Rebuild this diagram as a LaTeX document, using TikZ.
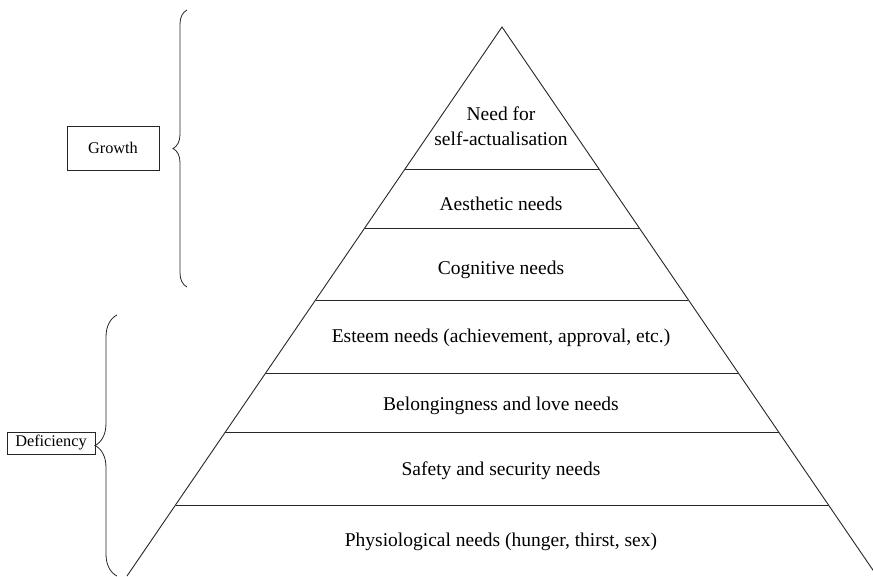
\documentclass[tikz,border=0pt]{standalone}
\usepackage{fontspec}
\setmainfont{Liberation Serif}
\usetikzlibrary{calc,decorations.pathreplacing}
\begin{document}
\begin{tikzpicture}[x=1pt,y=-1pt,
  line/.style={draw=black!85,line width=0.9pt},
  lvl/.style={font=\fontsize{19.5}{25}\selectfont,align=center,inner sep=0pt},
  side/.style={draw=black!85,line width=0.8pt,font=\fontsize{16.3}{19}\selectfont,inner sep=0pt},
  bracestyle/.style={draw=black!85,line width=0.8pt,decorate,decoration={brace,amplitude=#1,aspect=0.5}}]
\useasboundingbox (0,0) rectangle (873,576);
\coordinate (apex) at (502,27);
\coordinate (baseL) at (127,576);
\coordinate (baseR) at (877,576);
\draw[line] (baseL) -- (apex) -- (baseR);
\foreach \yy/\nm in {169/a,228/b,300/c,373/d,432/e,505/f}{
  \pgfmathsetmacro{\frac}{(\yy-27)/549}
  \draw[line] ($(apex)!\frac!(baseL)$) coordinate (sep\nm L) -- ($(apex)!\frac!(baseR)$) coordinate (sep\nm R);
}
\node[lvl] (selfact) at (501,126) {Need for\\self-actualisation};
\node[lvl] (aesth) at (501,204) {Aesthetic needs};
\node[lvl] (cogn) at (501,270) {Cognitive needs};
\node[lvl] (esteem) at (501,338) {Esteem needs (achievement, approval, etc.)};
\node[lvl] (belong) at (501,406) {Belongingness and love needs};
\node[lvl] (safety) at (501,471) {Safety and security needs};
\node[lvl] (phys) at (501,542) {Physiological needs (hunger, thirst, sex)};
\node[side,minimum width=92pt,minimum height=44pt] (growth) at (113,148) {Growth};
\node[side,minimum width=88pt,minimum height=22pt] (defic) at (51,443) {Deficiency};
\coordinate (gtop) at (187,10);
\coordinate (gbot) at (187,287);
\coordinate (dtop) at (117,315);
\coordinate (dbot) at (117,576);
\draw[bracestyle=14pt] (gbot) -- (gtop);
\draw[bracestyle=22pt] (dbot) -- (dtop);
\end{tikzpicture}
\end{document}
